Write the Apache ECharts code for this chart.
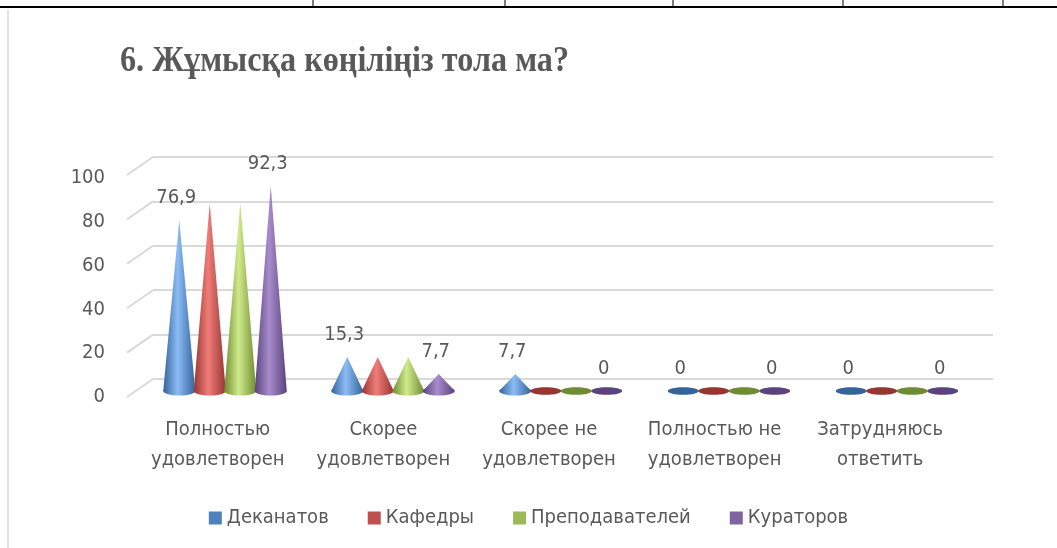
<!DOCTYPE html>
<html>
<head>
<meta charset="utf-8">
<script src="https://cdn.jsdelivr.net/npm/echarts@6/dist/echarts.min.js"></script>
<style>
html,body{margin:0;padding:0;background:#fff;}
#chart{width:1057px;height:548px;}
</style>
</head>
<body>
<div id="chart"></div>
<script>
var categories = ['Полностью\nудовлетворен', 'Скорее\nудовлетворен', 'Скорее не\nудовлетворен', 'Полностью не\nудовлетворен', 'Затрудняюсь\nответить'];
var seriesNames = ['Деканатов', 'Кафедры', 'Преподавателей', 'Кураторов'];
var dekanat = [76.9, 15.3, 7.7, 0, 0];
var kafedra = [84.6, 15.3, 0, 0, 0];
var prepod = [84.6, 15.3, 0, 0, 0];
var kurator = [92.3, 7.7, 0, 0, 0];
var yTicks = [0, 20, 40, 60, 80, 100];

var values = [dekanat, kafedra, prepod, kurator];
var colors = ['#4F81BD', '#C0504D', '#9BBB59', '#8064A2'];
var lights = ['#8cbcf5', '#f07c78', '#cfea8a', '#a88bcc'];
var darks = ['#35649c', '#973532', '#6f8c32', '#5b437d'];
var showLabels = [true, false, false, true];
var textColor = '#595959';
var font = "'Liberation Sans Narrow', 'DejaVu Sans Condensed', 'Liberation Sans', sans-serif";

var chart = echarts.init(document.getElementById('chart'));

function coneItem(si) {
    return function (params, api) {
        var cat = api.value(0), val = api.value(1);
        var base = api.coord([cat, 0]);
        var top = api.coord([cat, val]);
        var x = base[0] + (si - 1.5) * 30.5;
        var y0 = base[1];
        var children = [];
        if (val > 0) {
            var grad = new echarts.graphic.LinearGradient(0, 0, 1, 0, [
                {offset: 0, color: darks[si]},
                {offset: 0.45, color: lights[si]},
                {offset: 1, color: darks[si]}
            ]);
            children.push({type: 'ellipse', shape: {cx: x, cy: y0, rx: 16, ry: 4.5}, style: {fill: grad}});
            children.push({type: 'polygon', shape: {points: [[x - 16, y0], [x + 16, y0], [x, top[1]]]}, style: {fill: grad}});
        } else {
            children.push({type: 'ellipse', shape: {cx: x, cy: y0, rx: 15.5, ry: 3.8}, style: {fill: darks[si]}});
        }
        if (showLabels[si]) {
            children.push({
                type: 'text',
                style: {
                    x: x - 3, y: top[1] - 22,
                    text: String(val).replace('.', ','),
                    align: 'center', verticalAlign: 'middle',
                    font: '20px ' + font, fill: textColor
                }
            });
        }
        return {type: 'group', children: children};
    };
}

var series = [];
values.forEach(function (arr, si) {
    series.push({
        name: seriesNames[si],
        type: 'custom',
        xAxisIndex: 2, yAxisIndex: 2,
        renderItem: coneItem(si),
        data: arr.map(function (v, i) { return [i, v]; }),
        z: 5
    });
});

// diagonal floor/wall ticks on the left of the back wall
series.push({
    type: 'custom',
    xAxisIndex: 0, yAxisIndex: 0,
    silent: true,
    renderItem: function (params, api) {
        var p = api.coord([0, api.value(0)]);
        return {type: 'line', shape: {x1: p[0] - 26, y1: p[1] + 18, x2: p[0], y2: p[1]},
            style: {stroke: '#d9d9d9', lineWidth: 2}};
    },
    data: yTicks.map(function (v) { return [v]; })
});

chart.setOption({
    animation: false,
    legend: {
        data: seriesNames,
        top: 503, left: 'center',
        itemWidth: 13, itemHeight: 13, itemGap: 39,
        icon: 'rect',
        textStyle: {fontFamily: font, fontSize: 20, color: textColor}
    },
    color: colors,
    grid: [
        {left: 153, right: 64, top: 157, bottom: 169},
        {left: 135, right: 94, top: 178, bottom: 151},
        {left: 141, right: 76, top: 169, bottom: 157}
    ],
    xAxis: [
        {gridIndex: 0, type: 'value', min: 0, max: 1, show: false},
        {gridIndex: 1, type: 'category', data: categories,
            axisLine: {show: false}, axisTick: {show: false},
            axisLabel: {margin: 18, fontFamily: font, fontSize: 20, color: textColor, lineHeight: 30, interval: 0}},
        {gridIndex: 2, type: 'category', data: categories, show: false}
    ],
    yAxis: [
        {gridIndex: 0, type: 'value', min: 0, max: 100, interval: 20,
            axisLabel: {show: false}, axisLine: {show: false}, axisTick: {show: false},
            splitLine: {lineStyle: {color: '#d9d9d9', width: 2}}},
        {gridIndex: 1, type: 'value', min: 0, max: 100, interval: 20,
            axisLine: {show: false}, axisTick: {show: false}, splitLine: {show: false},
            axisLabel: {margin: 30, fontFamily: font, fontSize: 20, color: textColor}},
        {gridIndex: 2, type: 'value', min: 0, max: 100, show: false}
    ],
    graphic: [
        {type: 'text', x: 120, y: 62, scaleX: 0.92,
            style: {text: '6. Жұмысқа көңіліңіз тола ма?', verticalAlign: 'middle',
                font: "bold 35px 'Liberation Serif', serif", fill: textColor}},
        {type: 'line', shape: {x1: 0, y1: 7, x2: 1057, y2: 7}, style: {stroke: '#000', lineWidth: 2}},
        {type: 'line', shape: {x1: 313, y1: 0, x2: 313, y2: 7}, style: {stroke: '#000', lineWidth: 1}},
        {type: 'line', shape: {x1: 505, y1: 0, x2: 505, y2: 7}, style: {stroke: '#000', lineWidth: 1}},
        {type: 'line', shape: {x1: 673, y1: 0, x2: 673, y2: 7}, style: {stroke: '#000', lineWidth: 1}},
        {type: 'line', shape: {x1: 843, y1: 0, x2: 843, y2: 7}, style: {stroke: '#000', lineWidth: 1}},
        {type: 'line', shape: {x1: 1003, y1: 0, x2: 1003, y2: 7}, style: {stroke: '#000', lineWidth: 1}},
        {type: 'line', shape: {x1: 8, y1: 10, x2: 8, y2: 548}, style: {stroke: '#d9d9d9', lineWidth: 1.5}}
    ],
    series: series
});
</script>
</body>
</html>
